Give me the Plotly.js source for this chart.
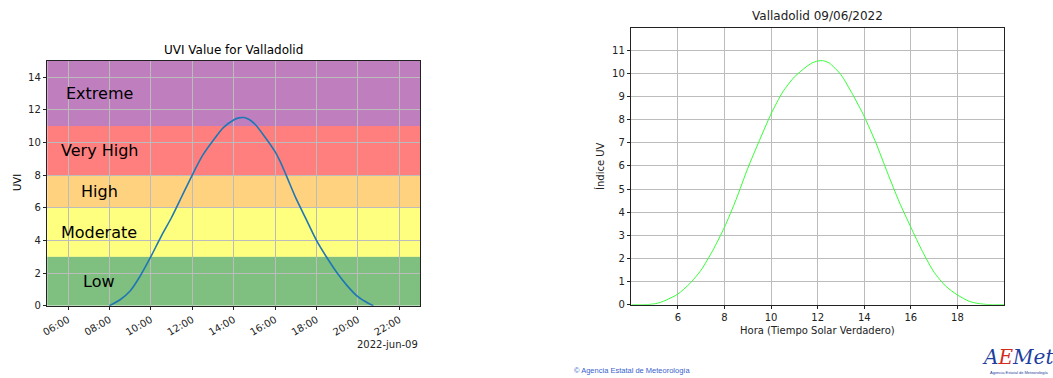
<!DOCTYPE html>
<html>
<head>
<meta charset="utf-8">
<script src="https://cdn.plot.ly/plotly-3.0.1.min.js"></script>
<style>
html,body{margin:0;padding:0;background:#fff;}
#chart{width:1053px;height:378px;}
</style>
</head>
<body>
<div id="chart"></div>
<script>
// ---- Left chart: UVI Value for Valladolid (local time) ----
const uviTimes = ['08:00','08:30','09:00','09:30','10:00','10:30','11:00','11:30','12:00','12:30','13:00','13:30','14:00','14:15','14:30','14:45','15:00','15:30','16:00','16:15','16:30','17:00','17:30','18:00','18:30','19:00','19:30','20:00','20:30','20:45'];
const uviValues = [0,0.35,0.9,1.85,3.0,4.25,5.4,6.7,8.0,9.2,10.1,10.9,11.37,11.5,11.52,11.4,11.15,10.35,9.43,8.82,8.1,6.6,5.3,4.0,2.95,2.0,1.2,0.55,0.15,0];
const uviDate = '2022-06-09';
const uviTickLabels = ['06:00','08:00','10:00','12:00','14:00','16:00','18:00','20:00','22:00'];

const bandNames  = ['Low','Moderate','High','Very High','Extreme'];
const bandLow    = [0,3,6,8,11];
const bandHigh   = [3,6,8,11,15];
const bandColors = ['rgba(0,128,0,0.5)','rgba(255,255,0,0.5)','rgba(255,165,0,0.5)','rgba(255,0,0,0.5)','rgba(128,0,128,0.5)'];
const bandLabelTime = '07:30';

// ---- Right chart: Valladolid 09/06/2022 (true solar time) ----
const solarHours = [4.0,4.5,4.75,5.0,5.25,5.5,6.0,6.5,7.0,7.5,8.0,8.5,9.0,9.5,10.0,10.5,11.0,11.5,11.75,12.0,12.25,12.5,13.0,13.5,14.0,14.5,15.0,15.5,16.0,16.5,17.0,17.5,18.0,18.5,18.75,19.0,19.25,19.5,20.0];
const solarUV    = [0,0,0.01,0.04,0.1,0.2,0.46,0.9,1.5,2.35,3.35,4.55,5.9,7.1,8.25,9.2,9.85,10.28,10.45,10.54,10.55,10.45,9.95,9.1,8.14,7.0,5.7,4.45,3.35,2.3,1.4,0.8,0.42,0.15,0.08,0.04,0.01,0,0];
const solarXTicks = [6,8,10,12,14,16,18];
const solarYTicks = [0,1,2,3,4,5,6,7,8,9,10,11];

const W = 1053, H = 378;
const px = x => x / W;
const py = y => 1 - y / H;

const FONT = 'DejaVu Sans, sans-serif';
const tickFont = {family: FONT, size: 10, color: '#222'};
const gridColor = '#bcbcbc';

const dt = t => uviDate + ' ' + t;

const traces = [
  {x: uviTimes.map(dt), y: uviValues, type: 'scatter', mode: 'lines',
   line: {color: '#1f77b4', width: 1.6, shape: 'spline', smoothing: 0.6}, xaxis: 'x', yaxis: 'y', hoverinfo: 'skip'},
  {x: solarHours, y: solarUV, type: 'scatter', mode: 'lines',
   line: {color: '#33ff33', width: 1, shape: 'spline', smoothing: 0.6}, xaxis: 'x2', yaxis: 'y2', hoverinfo: 'skip'}
];

const shapes = bandNames.map((n, i) => ({
  type: 'rect', xref: 'x domain', yref: 'y', x0: 0, x1: 1,
  y0: bandLow[i], y1: bandHigh[i], fillcolor: bandColors[i],
  line: {width: 0}, layer: 'below'
}));

const annotations = bandNames.map((n, i) => ({
  text: n, xref: 'x', yref: 'y', x: dt(bandLabelTime), y: (bandLow[i] + bandHigh[i]) / 2,
  showarrow: false, font: {family: FONT, size: 16, color: '#000'},
  xanchor: 'center', yanchor: 'middle'
}));

annotations.push(
  {text: 'UVI Value for Valladolid', xref: 'paper', yref: 'paper', x: px(233.5), y: py(50),
   showarrow: false, font: {family: FONT, size: 12, color: '#000'}, xanchor: 'center', yanchor: 'middle'},
  {text: 'UVI', xref: 'paper', yref: 'paper', x: px(17), y: py(183), textangle: -90,
   showarrow: false, font: {family: FONT, size: 10, color: '#000'}, xanchor: 'center', yanchor: 'middle'},
  {text: '2022-jun-09', xref: 'paper', yref: 'paper', x: px(420), y: py(344),
   showarrow: false, font: {family: FONT, size: 10, color: '#222'}, xanchor: 'right', yanchor: 'middle'},
  {text: 'Valladolid 09/06/2022', xref: 'paper', yref: 'paper', x: px(817.5), y: py(16),
   showarrow: false, font: {family: FONT, size: 12, color: '#222'}, xanchor: 'center', yanchor: 'middle'},
  {text: 'Índice UV', xref: 'paper', yref: 'paper', x: px(600), y: py(166), textangle: -90,
   showarrow: false, font: {family: FONT, size: 10, color: '#222'}, xanchor: 'center', yanchor: 'middle'},
  {text: 'Hora (Tiempo Solar Verdadero)', xref: 'paper', yref: 'paper', x: px(817.5), y: py(330),
   showarrow: false, font: {family: FONT, size: 10, color: '#222'}, xanchor: 'center', yanchor: 'middle'},
  {text: '© Agencia Estatal de Meteorología', xref: 'paper', yref: 'paper', x: px(572), y: py(370.5),
   showarrow: false, font: {family: 'Liberation Sans, Arial, sans-serif', size: 7.5, color: '#3a5fcd'}, xanchor: 'left', yanchor: 'middle'},
  {text: '<i><span style="color:#1d3e9e">A</span><span style="color:#d42a1e">E</span><span style="color:#1d3e9e">Met</span></i>',
   xref: 'paper', yref: 'paper', x: px(1018), y: py(357),
   showarrow: false, font: {family: 'DejaVu Serif, serif', size: 20, color: '#1d3e9e'}, xanchor: 'center', yanchor: 'middle'},
  {text: 'Agencia Estatal de Meteorología', xref: 'paper', yref: 'paper', x: px(1019), y: py(372.5),
   showarrow: false, font: {family: 'Liberation Sans, Arial, sans-serif', size: 4, color: '#1d3e9e'}, xanchor: 'center', yanchor: 'middle'}
);

const axisCommon = {
  showline: true, mirror: true, linecolor: '#222', linewidth: 1,
  ticks: 'outside', ticklen: 3.5, tickcolor: '#222', tickwidth: 1,
  showgrid: true, gridcolor: gridColor, gridwidth: 1, zeroline: false,
  tickfont: tickFont, fixedrange: true
};

const layout = {
  width: W, height: H,
  margin: {l: 0, r: 0, t: 0, b: 0},
  paper_bgcolor: '#fff', plot_bgcolor: '#fff',
  showlegend: false,
  xaxis: Object.assign({}, axisCommon, {
    domain: [px(47.3), px(420)], anchor: 'y', type: 'date',
    range: [dt('05:00'), dt('23:00')],
    tickvals: uviTickLabels.map(dt), ticktext: uviTickLabels, tickangle: -30
  }),
  yaxis: Object.assign({}, axisCommon, {
    domain: [py(305.7), py(60.7)], anchor: 'x',
    range: [0, 15], tickvals: [0,2,4,6,8,10,12,14]
  }),
  xaxis2: Object.assign({}, axisCommon, {
    domain: [px(631.3), px(1004)], anchor: 'y2',
    range: [4, 20], tickvals: solarXTicks
  }),
  yaxis2: Object.assign({}, axisCommon, {
    domain: [py(304.7), py(27.7)], anchor: 'x2',
    range: [0, 11.98], tickvals: solarYTicks
  }),
  shapes: shapes,
  annotations: annotations
};

Plotly.newPlot('chart', traces, layout, {staticPlot: true, displayModeBar: false});
</script>
</body>
</html>
